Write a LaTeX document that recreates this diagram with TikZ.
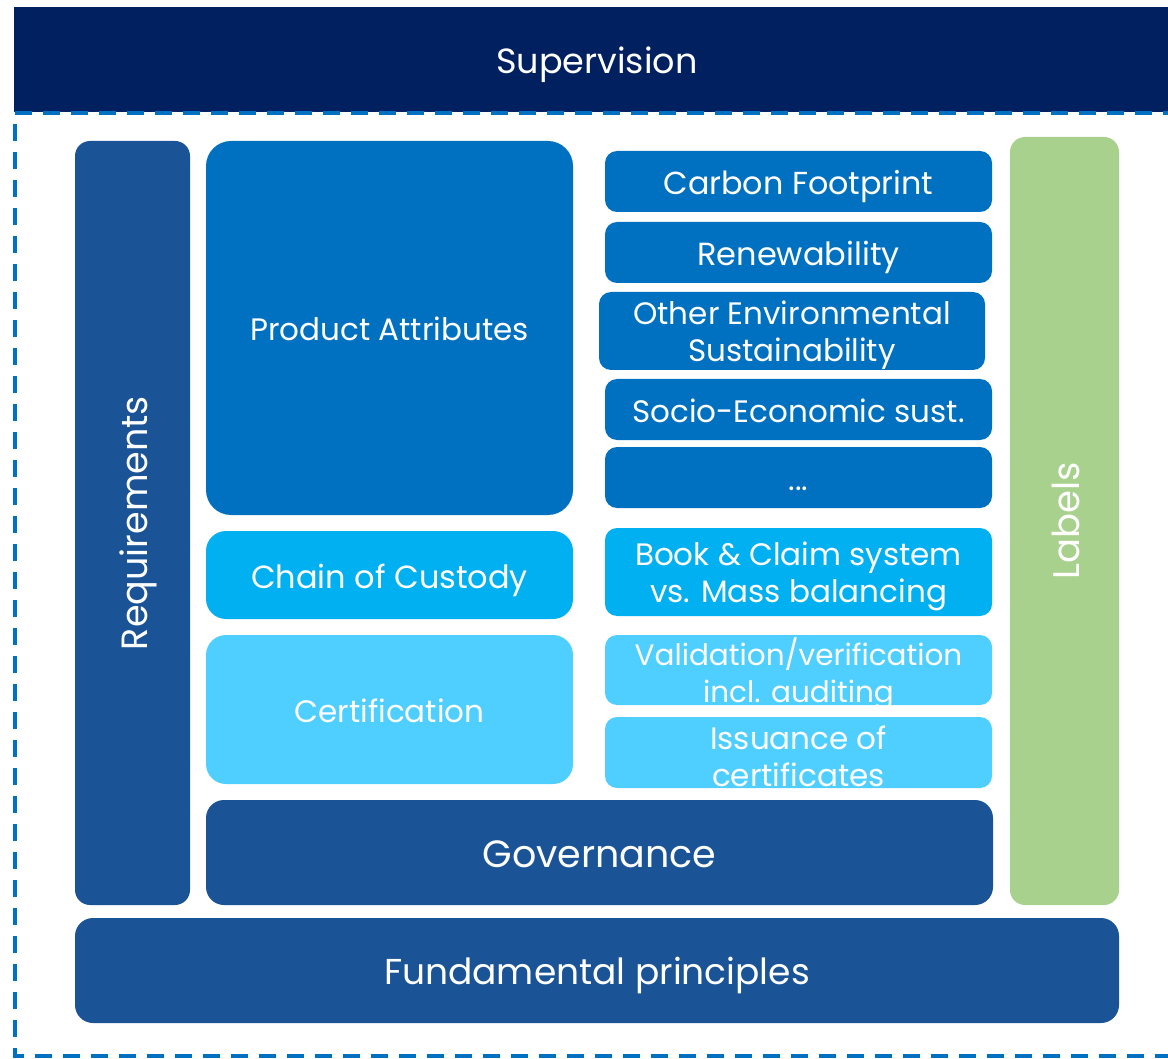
\documentclass[tikz,border=0pt]{standalone}
\usepackage{fontspec}
\setmainfont{Poppins}
\definecolor{navy}{HTML}{002060}
\definecolor{dkblue}{HTML}{1A5396}
\definecolor{pablue}{HTML}{0070C0}
\definecolor{ltblue}{HTML}{00B0F0}
\definecolor{skyblue}{HTML}{4FCFFF}
\definecolor{lblgreen}{HTML}{A9D18E}
\tikzset{
  box/.style={rectangle, rounded corners=12pt, text=white, align=center, inner sep=0pt},
  txt/.style={font=\fontsize{#1}{37}\selectfont, text depth=0pt, text height={0.72*#1pt+3pt}},
  twolines/.style={text=white, align=center, inner sep=0pt, yshift=-4pt, font=\fontsize{#1}{37}\selectfont}
}
\begin{document}
\begin{tikzpicture}[x=1pt,y=-1pt]
\useasboundingbox (0,0) rectangle (1168,1059);
\clip (0,0) rectangle (1168,1059);

% supervision band and dashed frame
\node[box, fill=navy, rounded corners=0pt, minimum width=1166pt, minimum height=105pt, txt=35] (sup) at (597,59.5) {Supervision};
\draw[pablue, line width=4pt, dash pattern=on 17pt off 11pt] (1180,113)--(15,113)--(15,1056)--(1180,1056);

% left and right columns
\node[box, fill=dkblue, rounded corners=15pt, rotate=90, minimum width=764pt, minimum height=115pt, txt=36.5] (req) at (132.5,523) {Requirements};
\node[box, fill=lblgreen, rounded corners=15pt, rotate=90, minimum width=768pt, minimum height=109pt, txt=37] (lbl) at (1064.5,521) {Labels};

% middle blocks
\node[box, fill=pablue, rounded corners=25pt, minimum width=367pt, minimum height=374pt, txt=31] (prod) at (389.5,328) {Product Attributes};
\node[box, fill=ltblue, rounded corners=20pt, minimum width=367pt, minimum height=88pt, txt=32] (coc) at (389.5,575) {Chain of Custody};
\node[box, fill=skyblue, rounded corners=20pt, minimum width=367pt, minimum height=149pt, txt=31] (cert) at (389.5,709.5) {Certification};
\node[box, fill=dkblue, rounded corners=18pt, minimum width=787pt, minimum height=105pt, txt=38] (gov) at (599.5,852.5) {Governance};
\node[box, fill=dkblue, rounded corners=18pt, minimum width=1044pt, minimum height=105pt, txt=36] (fund) at (597,970.5) {Fundamental principles};

% right hand list
\node[box, fill=pablue, minimum width=387pt, minimum height=61pt, txt=31.8] (carbon) at (798.5,181.5) {Carbon Footprint};
\node[box, fill=pablue, minimum width=387pt, minimum height=61pt, txt=32] (renew) at (798.5,252.5) {Renewability};
\node[box, fill=pablue, minimum width=386pt, minimum height=78pt] (env) at (792,331) {};
\node[twolines=31] (envtxt) at (env) {Other Environmental\\Sustainability};
\node[box, fill=pablue, minimum width=387pt, minimum height=61pt, txt=31] (socio) at (798.5,409.5) {Socio-Economic sust.};
\node[box, fill=pablue, minimum width=387pt, minimum height=61pt, txt=31] (dots) at (798.5,477.5) {...};
\node[box, fill=ltblue, minimum width=387pt, minimum height=88pt] (book) at (798.5,572) {};
\node[twolines=31] (booktxt) at (book) {Book \& Claim system\\vs. Mass balancing};
\node[box, fill=skyblue, minimum width=387pt, minimum height=70pt] (valid) at (798.5,670) {};
\node[twolines=29.5] (validtxt) at (valid) {Validation/verification\\incl. auditing};
\node[box, fill=skyblue, minimum width=387pt, minimum height=71pt] (issue) at (798.5,752.5) {};
\node[twolines=31] (issuetxt) at (issue) {Issuance of\\certificates};

\end{tikzpicture}
\end{document}
